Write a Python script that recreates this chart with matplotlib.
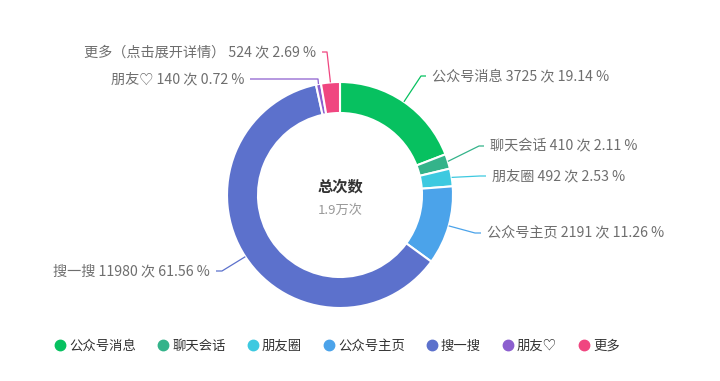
import numpy as np
import matplotlib.pyplot as plt
from matplotlib.lines import Line2D

plt.rcParams['font.family'] = ['Noto Sans CJK SC', 'DejaVu Sans']

# data
names = ['公众号消息', '聊天会话', '朋友圈', '公众号主页', '搜一搜', '朋友♡', '更多']
label_names = ['公众号消息', '聊天会话', '朋友圈', '公众号主页', '搜一搜', '朋友♡', '更多（点击展开详情）']
counts = [3725, 410, 492, 2191, 11980, 140, 524]
colors = ['#07c160', '#34b38a', '#3dc9e0', '#4ba3ea', '#5c71cc', '#8c5fcf', '#f04680']
center_title = '总次数'
center_value = '1.9万次'

W, H = 720, 381
fig = plt.figure(figsize=(W / 100, H / 100), dpi=100)
ax = fig.add_axes([0, 0, 1, 1])

cx, cy = 340, H - 195
R, ring = 113, 31

wedges, _ = ax.pie(counts, radius=R, center=(cx, cy), startangle=90, counterclock=False,
                   colors=colors, wedgeprops=dict(width=ring, edgecolor='white', linewidth=1.5))
ax.set_xlim(0, W)
ax.set_ylim(0, H)
ax.set_aspect('equal')
ax.axis('off')

total = sum(counts)
# label layout: (elbow x, elbow y, end x) in image pixels (y down)
layout = [(421, 76, 426), (479, 146, 484), (480, 176, 486), (475, 233, 481),
          (222, 271, 216), (318, 79, 250), (327, 52, 322)]

for w, name, c, col, (ex, ey, tx) in zip(wedges, label_names, counts, colors, layout):
    mid = np.deg2rad((w.theta1 + w.theta2) / 2)
    sx = cx + R * np.cos(mid)
    sy = cy + R * np.sin(mid)
    ax.plot([sx, ex, tx], [sy, H - ey, H - ey], color=col, lw=0.9, solid_capstyle='butt')
    right = tx > ex
    txt = f'{name} {c} 次 {c / total * 100:.2f} %'
    ax.text(tx + (6 if right else -6), H - ey, txt, ha='left' if right else 'right',
            va='center', fontsize=10.2, color='#6e6e6e')

ax.text(cx, H - 187, center_title, ha='center', va='center', fontsize=11,
        fontweight='bold', color='#333333')
ax.text(cx, H - 210, center_value, ha='center', va='center', fontsize=9.5, color='#999999')

handles = [Line2D([], [], marker='o', ls='none', markersize=7.5, markerfacecolor=col,
                  markeredgecolor=col) for col in colors]
fig.legend(handles, names, loc='center', bbox_to_anchor=(336 / W, 1 - 346 / H), ncol=7,
           frameon=False, handletextpad=0.1, columnspacing=1.4, handlelength=1.2,
           fontsize=9.6, labelcolor='#333333')

fig.savefig('out.png', dpi=100)
